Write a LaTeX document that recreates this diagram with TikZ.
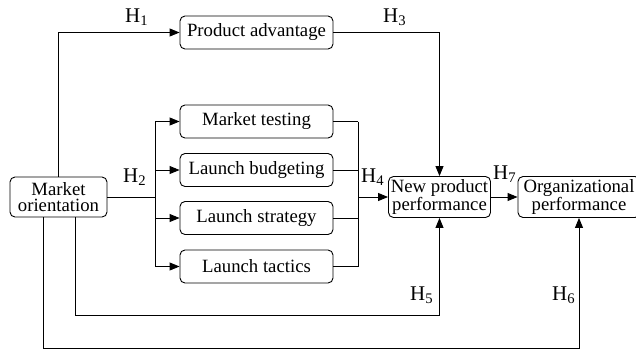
\documentclass[tikz,border=0pt]{standalone}
\usepackage{fontspec}
\setmainfont{Liberation Serif}
\usetikzlibrary{arrows.meta}
\tikzset{
  box/.style={draw, rounded corners=5bp, line width=0.9bp, align=center,
    inner xsep=2bp, inner ysep=1bp, font=\fontsize{18.8}{16.5}\selectfont},
  lbox/.style={box, minimum width=153bp, minimum height=33bp},
  ln/.style={line width=0.9bp},
  arr/.style={ln, -{Triangle[length=10bp,width=8bp]}},
  hl/.style={anchor=base west, inner sep=0pt, font=\fontsize{21}{22}\selectfont}
}
\newcommand{\hyp}[1]{H\textsubscript{#1}}
\begin{document}
\begin{tikzpicture}[x=1bp,y=-1bp]
\useasboundingbox (0,0) rectangle (636,351);
% nodes
\node[box, minimum width=97bp, minimum height=40bp] (MO) at (58.5,197) {Market\\orientation};
\node[lbox] (PA) at (256.5,32.5) {Product advantage};
\node[lbox] (MT) at (256.5,121.5) {Market testing};
\node[lbox] (LB) at (256.5,170) {Launch budgeting};
\node[lbox] (LS) at (256.5,218) {Launch strategy};
\node[lbox] (LT) at (256.5,266.5) {Launch tactics};
\node[box, minimum width=102bp, minimum height=41bp] (NPP) at (439.5,197) {New product\\performance};
\node[box, minimum width=122bp, minimum height=41bp] (OP) at (579,197) {Organizational\\performance};
% coordinates
\coordinate (bl) at (155,197);
\coordinate (br) at (358,197);
\coordinate (c5) at (75,315);
\coordinate (c6) at (43,348);
% H1
\draw[arr] (MO.north) |- (PA.west);
% H2
\draw[ln] (MO.east) -- (bl);
\draw[ln] (bl |- MT.west) -- (bl |- LT.west);
\draw[arr] (bl |- MT.west) -- (MT.west);
\draw[arr] (bl |- LB.west) -- (LB.west);
\draw[arr] (bl |- LS.west) -- (LS.west);
\draw[arr] (bl |- LT.west) -- (LT.west);
% H4
\draw[ln] (MT.east) -- (br |- MT.east);
\draw[ln] (LB.east) -- (br |- LB.east);
\draw[ln] (LS.east) -- (br |- LS.east);
\draw[ln] (LT.east) -- (br |- LT.east);
\draw[ln] (br |- MT.east) -- (br |- LT.east);
\draw[arr] (br) -- (NPP.west);
% H3
\draw[arr] (PA.east) -| (NPP.north);
% H5
\draw[arr] (MO.south -| c5) -- (c5) -| (NPP.south);
% H6
\draw[arr] (MO.south -| c6) -- (c6) -| (OP.south);
% H7
\draw[arr] (NPP.east) -- (OP.west);
% labels
\node[hl] (h1) at (125,22) {\hyp{1}};
\node[hl] (h2) at (123,182) {\hyp{2}};
\node[hl] (h3) at (383,22) {\hyp{3}};
\node[hl] (h4) at (361,182) {\hyp{4}};
\node[hl] (h5) at (410,300) {\hyp{5}};
\node[hl] (h6) at (552,300) {\hyp{6}};
\node[hl] (h7) at (493,179) {\hyp{7}};
\end{tikzpicture}
\end{document}
